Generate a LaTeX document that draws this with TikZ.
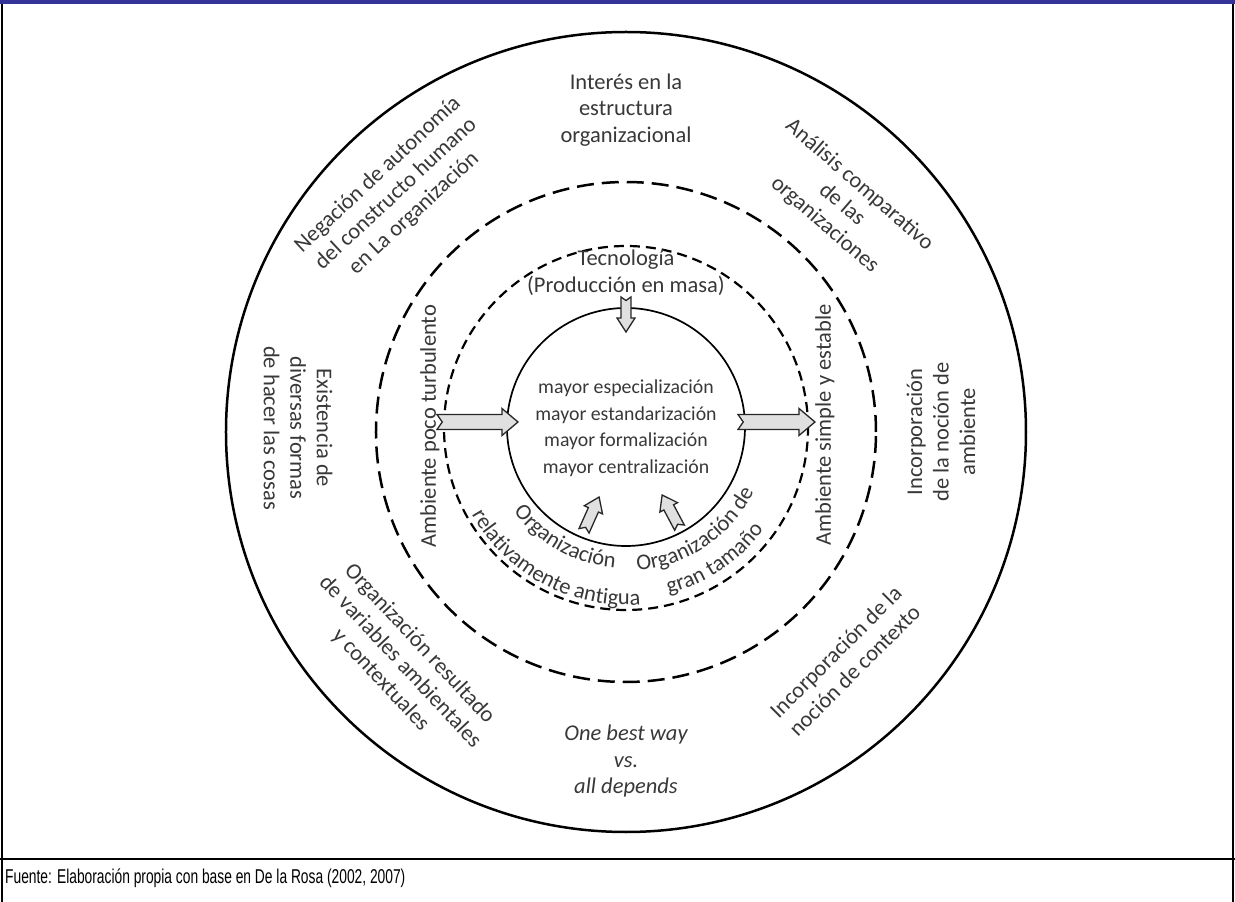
\documentclass[tikz,border=0pt]{standalone}
\usepackage{fontspec}
\setmainfont{Carlito}
\newfontfamily\capfont{Liberation Sans}
\usetikzlibrary{decorations.text}
\definecolor{barblue}{RGB}{51,51,153}
\definecolor{ink}{gray}{0.22}
\definecolor{arrowfill}{gray}{0.88}
% notched block arrow: tail point, direction, length, half body, half head, head length
\newcommand\notcharrow[6]{%
  \draw[arrowshape, shift={#1}, rotate=#2]
    (0,-#4) -- ({#3-#6},-#4) -- ({#3-#6},-#5) -- (#3,0) -- ({#3-#6},#5)
    -- ({#3-#6},#4) -- (0,#4) -- ({0.7*#4},0) -- cycle;}
\begin{document}
\begin{tikzpicture}[x=1pt,y=1pt,
  ringtext/.style={font=\fontsize{22.5}{26.5}\selectfont, text=ink, align=center, inner sep=0pt},
  coretext/.style={font=\fontsize{19.8}{26.5}\selectfont, text=ink, align=center, inner sep=0pt},
  arrowshape/.style={draw=black!85, fill=arrowfill, line width=1.3pt, line join=miter},
  frameline/.style={line width=1.6pt, black},
  arctext/.style={decorate, decoration={text along path, text align=center,
      text={|\fontsize{22.5}{26.5}\selectfont\color{ink}|#1}}}]
\useasboundingbox (-626,-470) rectangle (609,432);

% page frame
\fill[barblue] (-626,428) rectangle (609,432);
\draw[frameline] (-624,428) -- (-624,-470);
\draw[frameline] (607,428) -- (607,-470);
\draw[frameline] (-626,-427) -- (609,-427);
\node[anchor=base west, inner sep=0pt] (fuente) at (-621,-451)
  {\scalebox{0.69}[1]{\capfont\fontsize{20}{22}\selectfont Fuente: Elaboración propia con base en De la Rosa (2002, 2007)}};

% rings
\draw[line width=2.5pt] (0,0) circle[radius=400];
\draw[line width=2.5pt, dash pattern=on 17pt off 8pt] (0,0) circle[radius=250];
\begin{scope}[shift={(0,4)}]
  \draw[line width=2.2pt, dash pattern=on 10pt off 6pt] (0,0) circle[radius=182];
  \draw[line width=1.7pt] (0,1) circle[radius=119];
\end{scope}

% outer ring texts
\node[ringtext] (interes) at (0,322) {Interés en la\\estructura\\organizacional};
\node[ringtext, rotate=43] (negacion) at (-230,238) {Negación de autonomía\\del constructo humano\\en La organización};
\node[ringtext, rotate=-41] (analisis) at (216,227) {Análisis comparativo\\de las\\organizaciones};
\node[ringtext, rotate=-90] (existencia) at (-328,4) {Existencia de\\diversas formas\\de hacer las cosas};
\node[ringtext, rotate=90] (ambiente) at (315,0) {Incorporación\\de la noción de\\ambiente};
\node[ringtext, rotate=-47] (resultado) at (-226,-230) {Organización resultado\\de variables ambientales\\y contextuales};
\node[ringtext, rotate=45] (contexto) at (219,-229) {Incorporación de la\\noción de contexto};
\node[ringtext, font=\fontsize{22.5}{26.5}\selectfont\itshape] (onebest) at (0,-329) {One best way\\vs.\\all depends};

% middle ring texts
\node[ringtext, rotate=90] (turbulento) at (-196,6) {Ambiente poco turbulento};
\node[ringtext, rotate=90] (estable) at (199,7) {Ambiente simple y estable};
\node[ringtext] (tecnologia) at (0,159) {Tecnología\\(Producción en masa)};
\begin{scope}[shift={(0,4)}]
  \path[arctext={Organización}] (201:140) arc[start angle=201, end angle=281, radius=140];
  \path[arctext={relativamente antigua}] (205:177) arc[start angle=205, end angle=279, radius=177];
  \path[arctext={Organización de}] (264:143) arc[start angle=264, end angle=344, radius=143];
  \path[arctext={gran tamaño}] (264:171) arc[start angle=264, end angle=344, radius=171];
\end{scope}

% centre
\node[coretext] (centro) at (0,4) {mayor especialización\\mayor estandarización\\mayor formalización\\mayor centralización};

% arrows
\begin{scope}[shift={(0,5)}]
  \notcharrow{(-189,5)}{0}{81}{7.5}{13.5}{16}
  \notcharrow{(112,5)}{0}{77}{7.5}{13.5}{16}
  \notcharrow{(0,130)}{-90}{35}{5}{9}{14}
  \notcharrow{(248:112)}{66}{37}{5.5}{10}{14}
  \notcharrow{(298:114)}{118}{37}{5.5}{10}{14}
\end{scope}
\end{tikzpicture}
\end{document}
